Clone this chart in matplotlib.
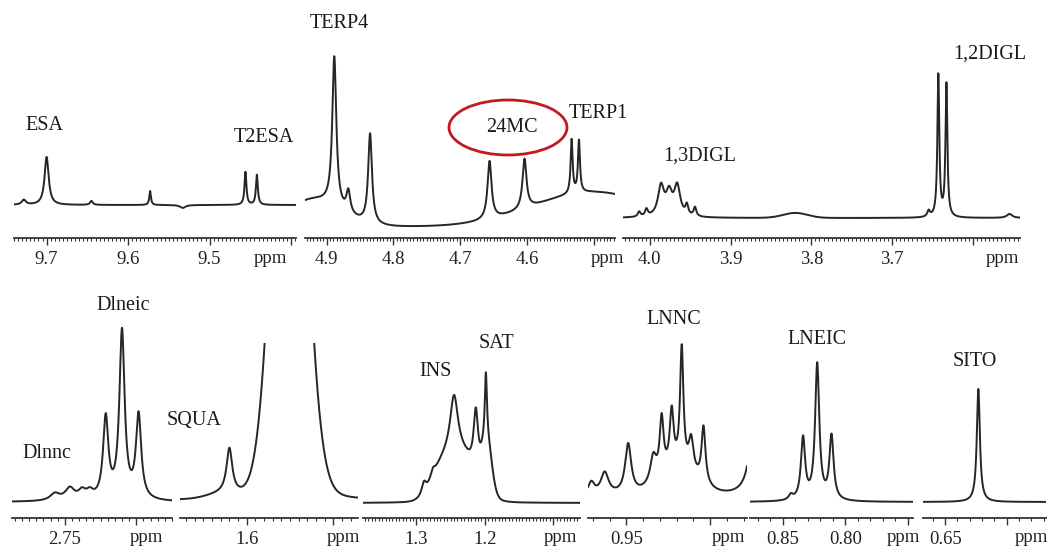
import numpy as np
import matplotlib.pyplot as plt
from matplotlib.patches import Ellipse
from matplotlib.ticker import MultipleLocator

plt.rcParams['font.family'] = ['Liberation Serif', 'DejaVu Serif']

W, H = 1047, 557

# ---- spectra: peak positions (ppm), heights, half widths (ppm) ----
# top row: aldehyde / olefinic / glyceride regions
ald_base = 33
ald_ppm = [9.728, 9.700, 9.645, 9.573, 9.533, 9.456, 9.442]
ald_h = [5, 48, 4, 14, -3, 33, 30]
ald_w = [0.003, 0.003, 0.002, 0.0012, 0.004, 0.0014, 0.0014]

ole_base = 11
ole_ppm = [4.8886, 4.8676, 4.835, 4.656, 4.6036, 4.533, 4.522]
ole_h = [150, 22, 90, 58, 50, 54, 52]
ole_w = [0.0036, 0.0035, 0.0034, 0.0036, 0.0036, 0.0018, 0.0018]
ole_hump_ppm = [4.92, 4.50]
ole_hump_h = [27, 35]
ole_hump_s = [0.04, 0.09]

gly_base = 20
gly_ppm = [4.013, 4.004, 3.986, 3.976, 3.966, 3.954, 3.944, 3.655, 3.643, 3.633, 3.555]
gly_h = [5, 7, 30, 22, 30, 10, 9, 6, 142, 133, 4]
gly_w = [0.002, 0.002, 0.0045, 0.0045, 0.0045, 0.002, 0.002, 0.002, 0.0014, 0.0014, 0.004]
gly_hump_ppm = [3.82]
gly_hump_h = [5]
gly_hump_s = [0.015]

# bottom row
bis_base = 16
bis_ppm = [2.757, 2.7465, 2.738, 2.7326, 2.7214, 2.710, 2.6984]
bis_h = [7, 12, 8, 7, 81, 168, 84]
bis_w = [0.004, 0.004, 0.003, 0.003, 0.0022, 0.0022, 0.0022]

squ_base = 18
squ_ppm = [1.610, 1.566]
squ_h = [45, 20]
squ_w = [0.002, 0.011]
squ_hump_ppm = [1.5756, 1.612]
squ_hump_h = [546, 6]
squ_hump_s = [0.0088, 0.01]

sat_base = 15
sat_ppm = [1.289, 1.276, 1.245, 1.2132, 1.1985]
sat_h = [12, 8, 58, 61, 65]
sat_w = [0.004, 0.004, 0.007, 0.004, 0.0018]
sat_hump_ppm = [1.235, 1.265, 1.197]
sat_hump_h = [45, 20, 50]
sat_hump_s = [0.022, 0.015, 0.007]

lnn_base = 22
lnn_ppm = [0.971, 0.963, 0.949, 0.934, 0.929, 0.923, 0.917, 0.9114, 0.904, 0.873]
lnn_h = [12, 22, 50, 26, 56, 56, 118, 32, 56, 110]
lnn_w = [0.0022, 0.0028, 0.0022, 0.0022, 0.0014, 0.0014, 0.0012, 0.0017, 0.0014, 0.003]
lnn_hump_ppm = [0.919]
lnn_hump_h = [26]
lnn_hump_s = [0.011]

lne_base = 16
lne_ppm = [0.8434, 0.8337, 0.8224, 0.811]
lne_h = [5, 62, 136, 64]
lne_w = [0.002, 0.002, 0.002, 0.002]

sit_base = 16
sit_ppm = [0.623]
sit_h = [113]
sit_w = [0.0015]

# ---- axis windows, ticks and labels ----
top_lims = [(9.74, 9.394), (4.9325, 4.468), (4.033, 3.542)]
top_ticks = [[9.7, 9.6, 9.5, 9.4], [4.9, 4.8, 4.7, 4.6, 4.5], [4.0, 3.9, 3.8, 3.7, 3.6]]
top_ticklabels = [['9.7', '9.6', '9.5', ''], ['4.9', '4.8', '4.7', '4.6', ''],
                  ['4.0', '3.9', '3.8', '3.7', '']]
top_ppm_at = [9.426, 4.48, 3.564]

bot_lims = [(2.787, 2.675), (1.6385, 1.5358), (1.378, 1.061), (0.973, 0.878),
            (0.876, 0.746), (0.668, 0.568)]
bot_ticks = [[2.75, 2.70], [1.6, 1.55], [1.3, 1.2, 1.1], [0.95, 0.90], [0.85, 0.80, 0.75],
             [0.65, 0.60]]
bot_ticklabels = [['2.75', ''], ['1.6', ''], ['1.3', '1.2', ''], ['0.95', ''],
                  ['0.85', '0.80', ''], ['0.65', '']]
bot_ppm_at = [2.693, 1.5445, 1.090, 0.889, 0.754, 0.580]

labels = ['ESA', 'T2ESA', 'TERP4', '24MC', 'TERP1', '1,3DIGL', '1,2DIGL',
          'Dlneic', 'Dlnnc', 'SQUA', 'INS', 'SAT', 'LNNC', 'LNEIC', 'SITO']


def spectrum(x, base, ppm, h, w, hppm=(), hh=(), hs=()):
    y = np.full_like(x, float(base))
    for c, a, g in zip(ppm, h, w):
        y += a / (1 + ((x - c) / g) ** 2)
    for c, a, s in zip(hppm, hh, hs):
        y += a * np.exp(-0.5 * ((x - c) / s) ** 2)
    return y


def panel(x0, x1, ytop, yaxis, lim, ticks, ticklabels, ppm_at, minor, spec):
    ax = fig.add_axes([x0 / W, 1 - yaxis / H, (x1 - x0) / W, (yaxis - ytop) / H])
    x = np.linspace(lim[0], lim[1], 3000)
    ax.plot(x, spectrum(x, *spec), color='#262626', lw=1.4)
    ax.set_xlim(lim)
    ax.set_ylim(0, yaxis - ytop)
    for s in ['top', 'left', 'right']:
        ax.spines[s].set_visible(False)
    ax.spines['bottom'].set_color('#333333')
    ax.spines['bottom'].set_linewidth(1.3)
    ax.set_yticks([])
    ax.set_xticks(ticks, ticklabels)
    ax.xaxis.set_minor_locator(MultipleLocator(minor))
    ax.tick_params(axis='x', which='major', length=5, width=1, pad=4,
                   labelsize=13.5, colors='#333333', labelcolor='#222222')
    ax.tick_params(axis='x', which='minor', length=2.5, width=0.8, colors='#333333')
    ax.text(ppm_at, -20 / (yaxis - ytop), 'ppm', transform=ax.get_xaxis_transform(),
            ha='center', va='center', fontsize=13.5, color='#222222')
    return ax


fig = plt.figure(figsize=(W / 100, H / 100), dpi=100)

top_x = [(14, 296), (305, 615), (623, 1020)]
top_specs = [
    (ald_base, ald_ppm, ald_h, ald_w),
    (ole_base, ole_ppm, ole_h, ole_w, ole_hump_ppm, ole_hump_h, ole_hump_s),
    (gly_base, gly_ppm, gly_h, gly_w, gly_hump_ppm, gly_hump_h, gly_hump_s),
]
for i in range(3):
    panel(top_x[i][0], top_x[i][1], 40, 238, top_lims[i], top_ticks[i], top_ticklabels[i],
          top_ppm_at[i], 0.005, top_specs[i])

bot_x = [(12, 172), (180, 358), (363, 580), (588, 747), (750, 913), (923, 1046)]
bot_top = [300, 343, 300, 300, 300, 300]
bot_minor = [0.005, 0.005, 0.005, 0.01, 0.01, 0.01]
bot_specs = [
    (bis_base, bis_ppm, bis_h, bis_w),
    (squ_base, squ_ppm, squ_h, squ_w, squ_hump_ppm, squ_hump_h, squ_hump_s),
    (sat_base, sat_ppm, sat_h, sat_w, sat_hump_ppm, sat_hump_h, sat_hump_s),
    (lnn_base, lnn_ppm, lnn_h, lnn_w, lnn_hump_ppm, lnn_hump_h, lnn_hump_s),
    (lne_base, lne_ppm, lne_h, lne_w),
    (sit_base, sit_ppm, sit_h, sit_w),
]
for i in range(6):
    panel(bot_x[i][0], bot_x[i][1], bot_top[i], 518, bot_lims[i], bot_ticks[i],
          bot_ticklabels[i], bot_ppm_at[i], bot_minor[i], bot_specs[i])

# peak labels (pixel centres)
label_xy = [(44, 125), (264, 137), (339, 23), (512, 127), (598, 113), (700, 156), (990, 54),
            (123, 306), (47, 454), (194, 421), (435, 372), (497, 343), (674, 319),
            (817, 340), (975, 362)]
for txt, (px, py) in zip(labels, label_xy):
    fig.text(px / W, 1 - py / H, txt, ha='center', va='center', fontsize=14.5, color='#1a1a1a')

fig.add_artist(Ellipse((508 / W, 1 - 127.5 / H), 118 / W, 55 / H, transform=fig.transFigure,
                       fill=False, ec='#c01a1f', lw=2))

fig.savefig('out.png', dpi=100)
